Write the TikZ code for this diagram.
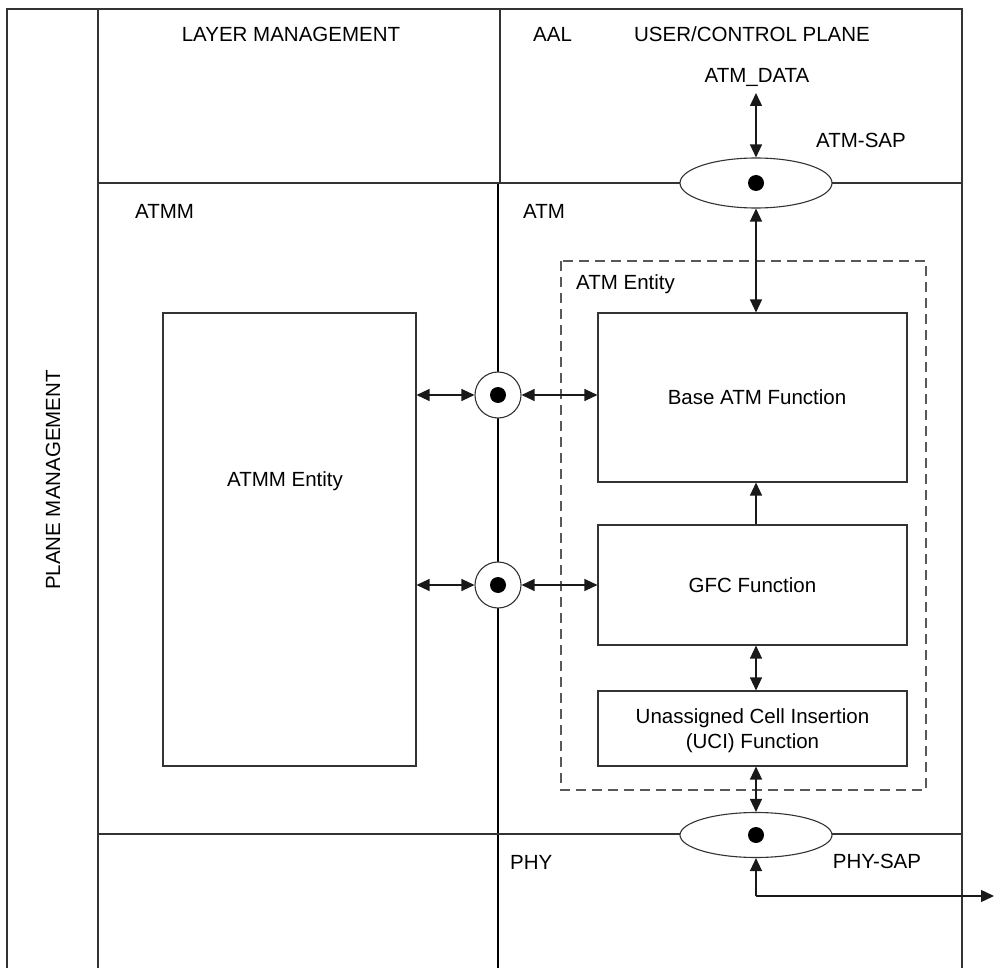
\documentclass[tikz,border=0pt]{standalone}
\usepackage{fontspec}
\setmainfont{Liberation Sans}
\usetikzlibrary{arrows.meta,shapes.geometric}
\begin{document}
\begin{tikzpicture}[x=1pt,y=-1pt,
  ln/.style={line width=1.1pt,draw=black!80},
  thick line/.style={line width=2pt,draw=black},
  fbox/.style={ln,fill=white,inner sep=0pt},
  lbl/.style={font=\fontsize{20.5}{24}\selectfont,inner sep=0pt,anchor=base},
  sap/.style={ellipse,ln,fill=white,minimum width=152pt,inner sep=0pt},
  dotc/.style={circle,ln,fill=white,minimum size=46pt,inner sep=0pt},
  tip/.tip={Triangle[length=13pt,width=12pt]},
  arr/.style={line width=1.3pt,draw=black!90,-tip},
  darr/.style={line width=1.3pt,draw=black!90,tip-tip}]
\useasboundingbox (0,0) rectangle (994,968);
% frame lines
\draw[ln] (7,968) -- (7,9) -- (962,9) -- (962,968);
\draw[ln] (98,9) -- (98,968);
\draw[ln] (500,9) -- (500,183);
\draw[thick line] (498,183) -- (498,968);
\draw[ln] (98,183) -- (962,183);
\draw[ln] (98,834) -- (962,834);
% dashed entity
\draw[ln,draw=black!65,dash pattern=on 10pt off 6pt] (561,261) rectangle (926,790);
% boxes
\node[fbox,minimum width=253pt,minimum height=453pt] (atmm) at (289.5,539.5) {};
\node[fbox,minimum width=309pt,minimum height=169pt] (base) at (752.5,397.5) {};
\node[fbox,minimum width=309pt,minimum height=120pt] (gfc) at (752.5,585) {};
\node[fbox,minimum width=309pt,minimum height=75pt] (uci) at (752.5,728.5) {};
% SAPs
\node[sap,minimum height=50pt] (atmsap) at (756,183) {};
\node[sap,minimum height=45pt] (physap) at (756,835) {};
\fill (atmsap.center) circle (8pt);
\fill (physap.center) circle (8pt);
\node[dotc] (c1) at (498,395) {};
\node[dotc] (c2) at (498,585) {};
\fill (c1.center) circle (8pt);
\fill (c2.center) circle (8pt);
% labels
\node[lbl] (lm) at (291,41.5) {LAYER MANAGEMENT};
\node[lbl,anchor=base west] (aal) at (533,41.5) {AAL};
\node[lbl] (ucp) at (752,41.5) {USER/CONTROL PLANE};
\node[lbl] (atmdata) at (757,83) {ATM\_DATA};
\node[lbl] (atmsapl) at (861,148) {ATM-SAP};
\node[lbl,anchor=base west] (atmml) at (135,219) {ATMM};
\node[lbl,anchor=base west] (atml) at (523,219) {ATM};
\node[lbl,anchor=base west] (entl) at (576,290) {ATM Entity};
\node[lbl] at (757,405) {Base ATM Function};
\node[lbl] at (gfc.center |- 0,592) {GFC Function};
\node[lbl] at (uci.center |- 0,723) {Unassigned Cell Insertion};
\node[lbl] at (uci.center |- 0,748) {(UCI) Function};
\node[lbl] at (285,486) {ATMM Entity};
\node[lbl,anchor=base west] (phyl) at (510,869) {PHY};
\node[lbl] (physapl) at (877,868) {PHY-SAP};
\node[font=\fontsize{20.5}{24}\selectfont,inner sep=0pt,rotate=90] (pm) at (53,480) {PLANE MANAGEMENT};
% connectors
\coordinate (dtop) at (756,93);
\draw[darr] (dtop) -- (atmsap.north);
\draw[darr] (atmsap.south) -- (base.north -| atmsap.south);
\draw[arr] (gfc.north -| atmsap.south) -- (base.south -| atmsap.south);
\draw[darr] (gfc.south -| atmsap.south) -- (uci.north -| atmsap.south);
\draw[darr] (uci.south -| atmsap.south) -- (physap.north);
\coordinate (pc) at (756,896);
\coordinate (pend) at (994,896);
\draw[arr] (pc) -- (physap.south);
\draw[arr] (pc) -- (pend);
\draw[darr] (atmm.east |- c1.west) -- (c1.west);
\draw[darr] (c1.east) -- (base.west |- c1.east);
\draw[darr] (atmm.east |- c2.west) -- (c2.west);
\draw[darr] (c2.east) -- (gfc.west |- c2.east);
\end{tikzpicture}
\end{document}
